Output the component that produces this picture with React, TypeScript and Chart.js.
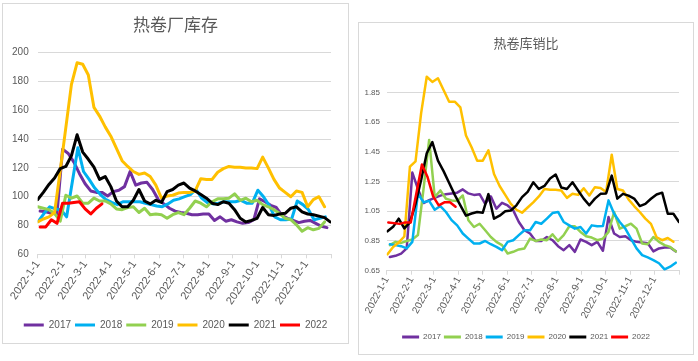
import React, { useEffect, useRef } from "react";
import { Chart, registerables } from "chart.js";

Chart.register(...registerables);

// ---------- shared axis data ----------
const years = ["2017", "2018", "2019", "2020", "2021", "2022"];
const monthLabels = [
  "2022-1-1", "2022-2-1", "2022-3-1", "2022-4-1", "2022-5-1", "2022-6-1",
  "2022-7-1", "2022-8-1", "2022-9-1", "2022-10-1", "2022-11-1", "2022-12-1",
];
const monthDays = [0, 31, 59, 90, 120, 151, 181, 212, 243, 273, 304, 334];
const yearDays = 365;

// ---------- left chart: 热卷厂库存 (weekly) ----------
const inv2017 = [90, 89.5, 88.5, 88, 133, 130, 124, 116, 109, 104, 103, 103, 100.5, 103.5, 104.5, 107, 117.5, 108, 109.5, 110, 105, 98, 95, 92, 90, 89, 88.5, 87.5, 87.5, 88, 88, 83.5, 86, 83, 84, 82.5, 81.5, 82, 84, 98.5, 96.5, 94, 92.5, 87, 85, 83.5, 82, 83, 83.5, 81.5, 79.5, 78.5];
const inv2018 = [83, 88.5, 93, 91.5, 91, 86, 110, 134, 117.5, 112, 106, 101.5, 98, 96, 94.5, 96.5, 96.5, 96.5, 96.5, 95.5, 94.5, 93.5, 93, 95, 97.5, 98.5, 100, 101.5, 105, 99, 96, 95, 95.5, 96.5, 96.5, 96.5, 97.5, 95.5, 95.5, 104.5, 100, 94, 86, 84, 84, 84.5, 97, 94.5, 91, 84, 85, 86];
const inv2019 = [93, 92, 91, 88.5, 83, 101, 99, 100.5, 95.5, 95.5, 99, 97, 97, 95, 91.5, 91, 92.5, 93, 89, 92, 87.5, 88, 87.5, 85, 87.5, 89, 87.5, 92, 97, 95.5, 93, 96.5, 98.5, 98.5, 99, 102, 97.5, 99, 96.5, 97.5, 94.5, 93, 91, 88.5, 85, 84, 80.5, 76, 78.5, 77, 78, 82.5];
const inv2020 = [82.5, 84.5, 86, 89, 118, 148, 178, 193, 192, 184.5, 162, 156, 148.5, 142, 133.5, 125, 121, 117.5, 115.5, 116.5, 114, 108, 99, 100.5, 101, 102.5, 103, 103, 104, 112.5, 112, 112, 117, 119.5, 121, 120.5, 120.5, 120, 120, 119.5, 127.5, 120, 112, 106, 103, 100, 104, 103, 93, 98, 100, 93];
const inv2021 = [98, 103, 108.5, 113, 119.5, 121, 128.5, 143, 131, 126, 120.5, 112, 114, 107, 97, 93, 93, 97.5, 105, 97, 95, 97.5, 96, 103.5, 105, 108, 109.5, 106, 104, 101.5, 99, 95.5, 94.5, 96.5, 95.5, 91, 85, 82.5, 83.5, 85, 92.5, 87.5, 87, 88, 88.5, 92, 93, 89.5, 88, 87.5, 86.5, 85.5, 82.5];
const inv2022 = [79, 79, 84, 81.5, 95.5, 95.5, 96, 96.5, 91.5, 88, 92, 95];
const invStartDays = [3, 1, 0, 0, 0, 3];
const invTicks = [60, 80, 100, 120, 140, 160, 180, 200];

// ---------- right chart: 热卷库销比 (weekly) ----------
const ratio2017 = [0.742, 0.75, 0.765, 0.8, 1.31, 1.2, 1.105, 1.125, 1.14, 1.155, 1.165, 1.17, 1.175, 1.197, 1.17, 1.16, 1.165, 1.1, 1.15, 1.067, 1.107, 1.089, 1.056, 0.978, 0.922, 0.9, 0.85, 0.85, 0.877, 0.855, 0.815, 0.788, 0.822, 0.777, 0.86, 0.844, 0.822, 0.844, 0.784, 1.011, 0.9, 0.877, 0.882, 0.855, 0.844, 0.84, 0.835, 0.78, 0.8, 0.806, 0.806, 0.78];
const ratio2018 = [0.822, 0.844, 0.837, 0.85, 0.86, 0.89, 1.2, 1.53, 1.145, 1.19, 1.134, 1.123, 1.118, 1.156, 0.989, 0.944, 0.966, 0.922, 0.877, 0.844, 0.822, 0.766, 0.777, 0.793, 0.8, 0.866, 0.85, 0.86, 0.855, 0.895, 0.85, 0.889, 0.949, 0.949, 0.911, 0.882, 0.873, 0.855, 0.866, 0.911, 1.045, 0.933, 0.949, 0.966, 0.933, 0.833, 0.828, 0.877, 0.844, 0.822, 0.81, 0.78];
const ratio2019 = [0.828, 0.822, 0.815, 0.8, 0.844, 1.17, 1.11, 1.12, 1.06, 1.085, 1.045, 0.99, 0.955, 0.9, 0.866, 0.833, 0.833, 0.85, 0.828, 0.81, 0.788, 0.844, 0.855, 0.889, 0.922, 0.922, 0.978, 0.966, 1.0, 1.038, 1.045, 0.978, 0.955, 0.933, 0.944, 0.9, 0.955, 0.949, 0.95, 1.123, 1.033, 0.978, 0.933, 0.866, 0.8, 0.755, 0.739, 0.721, 0.7, 0.659, 0.677, 0.704];
const ratio2020 = [0.76, 0.81, 0.84, 0.88, 1.35, 1.385, 1.71, 1.955, 1.92, 1.945, 1.866, 1.787, 1.787, 1.748, 1.56, 1.48, 1.39, 1.39, 1.46, 1.3, 1.22, 1.16, 1.1, 1.06, 1.04, 1.075, 1.11, 1.15, 1.2, 1.195, 1.195, 1.19, 1.14, 1.167, 1.16, 1.205, 1.156, 1.212, 1.207, 1.18, 1.43, 1.2, 1.19, 1.13, 1.085, 1.045, 1.0, 0.965, 0.875, 0.855, 0.87, 0.845];
const ratio2021 = [0.915, 0.945, 1.0, 0.935, 0.975, 1.1, 1.26, 1.44, 1.515, 1.39, 1.32, 1.24, 1.16, 1.09, 1.02, 1.035, 1.045, 1.04, 1.165, 1.0, 1.02, 1.05, 1.055, 1.09, 1.145, 1.18, 1.245, 1.2, 1.22, 1.27, 1.297, 1.21, 1.2, 1.245, 1.19, 1.135, 1.09, 1.135, 1.167, 1.17, 1.29, 1.135, 1.167, 1.155, 1.135, 1.085, 1.1, 1.134, 1.163, 1.175, 1.033, 1.033, 0.978];
const ratio2022 = [0.975, 0.97, 0.965, 0.975, 0.975, 1.17, 1.365, 1.28, 1.15, 1.09, 1.11, 1.11, 1.08];
const ratioStartDays = [4, 4, 4, 1, 1, 2];
const ratioTicks = [0.65, 0.85, 1.05, 1.25, 1.45, 1.65, 1.85];

// ---------- styles ----------
const PURPLE = "#7030A0";
const BLUE = "#00B0F0";
const GREEN = "#92D050";
const ORANGE = "#FFC000";
const BLACK = "#000000";
const RED = "#FF0000";
const TEXT = "#595959";
const GRID = "#d9d9d9";
const FONT = '"Liberation Sans", Arial, sans-serif';
const CJK = '"Noto Sans CJK SC", "Noto Sans", sans-serif';

function toPoints(values: number[], startDay: number) {
  return values.map((v, i) => ({ x: startDay + i * 7, y: v }));
}

type Cfg = {
  box: { left: number; top: number; w: number; h: number };
  title: string;
  titleSize: number;
  titlePad: { top: number; bottom: number };
  series: number[][];
  startDays: number[];
  colors: string[];
  lineWidth: number;
  yMin: number;
  yMax: number;
  yTicks: number[];
  yDecimals: number;
  yFont: number;
  yPad: number;
  yWidth: number;
  rightGap: number;
  xFont: number;
  xRot: number;
  xHeight: number;
  legendFont: number;
  legendBox: number;
  legendPad: number;
  bottomPad: number;
};

const leftCfg: Cfg = {
  box: { left: 2, top: 3, w: 345, h: 339 },
  title: "热卷厂库存",
  titleSize: 17,
  titlePad: { top: 10, bottom: 18.3 },
  series: [inv2017, inv2018, inv2019, inv2020, inv2021, inv2022],
  startDays: invStartDays,
  colors: [PURPLE, BLUE, GREEN, ORANGE, BLACK, RED],
  lineWidth: 3,
  yMin: 60,
  yMax: 200,
  yTicks: invTicks,
  yDecimals: 0,
  yFont: 10,
  yPad: 9,
  yWidth: 34.7,
  rightGap: 17,
  xFont: 11,
  xRot: 56,
  xHeight: 61.7,
  legendFont: 10,
  legendBox: 20,
  legendPad: 4,
  bottomPad: 3,
};

const rightCfg: Cfg = {
  box: { left: 358, top: 22, w: 334, h: 331 },
  title: "热卷库销比",
  titleSize: 13,
  titlePad: { top: 12.2, bottom: 11.8 },
  series: [ratio2017, ratio2018, ratio2019, ratio2020, ratio2021, ratio2022],
  startDays: ratioStartDays,
  colors: [PURPLE, GREEN, BLUE, ORANGE, BLACK, RED],
  lineWidth: 2.5,
  yMin: 0.65,
  yMax: 2.05,
  yTicks: ratioTicks,
  yDecimals: 2,
  yFont: 8,
  yPad: 6.7,
  yWidth: 27.7,
  rightGap: 14,
  xFont: 10,
  xRot: 62,
  xHeight: 59.3,
  legendFont: 8,
  legendBox: 17,
  legendPad: 3,
  bottomPad: 3,
};

function ChartPanel({ cfg }: { cfg: Cfg }) {
  const ref = useRef<HTMLCanvasElement>(null);

  useEffect(() => {
    if (!ref.current) return;
    const datasets = cfg.series.map((vals, i) => ({
      label: years[i],
      data: toPoints(vals, cfg.startDays[i]),
      borderColor: cfg.colors[i],
      backgroundColor: cfg.colors[i],
      borderWidth: cfg.lineWidth,
      pointRadius: 0,
      pointHoverRadius: 0,
      tension: 0,
      borderJoinStyle: "round",
      borderCapStyle: "round",
      order: -i,
    }));

    const chart = new Chart(ref.current, {
      type: "line",
      data: { datasets } as any,
      options: {
        responsive: false,
        animation: false,
        devicePixelRatio: 1,
        layout: { padding: { left: 0, right: 0, top: 0, bottom: cfg.bottomPad } },
        plugins: {
          tooltip: { enabled: false },
          title: {
            display: true,
            text: cfg.title,
            color: TEXT,
            font: { family: CJK, size: cfg.titleSize, weight: "normal" },
            padding: cfg.titlePad,
          },
          legend: {
            display: true,
            position: "bottom",
            align: "center",
            labels: {
              boxWidth: cfg.legendBox,
              boxHeight: 3,
              padding: cfg.legendPad,
              color: TEXT,
              font: { family: FONT, size: cfg.legendFont },
              sort: (a: any, b: any) => a.datasetIndex - b.datasetIndex,
              generateLabels: (c: any) =>
                (Chart.defaults.plugins.legend.labels.generateLabels as any)(c).map((it: any) => ({
                  ...it,
                  lineWidth: 0,
                  fillStyle: it.strokeStyle,
                })),
            },
          },
        },
        scales: {
          x: {
            type: "linear",
            min: 0,
            max: yearDays,
            afterBuildTicks: (axis: any) => {
              axis.ticks = [...monthDays, yearDays].map((v) => ({ value: v }));
            },
            afterFit: (axis: any) => {
              axis.height = cfg.xHeight;
            },
            ticks: {
              autoSkip: false,
              minRotation: cfg.xRot,
              maxRotation: cfg.xRot,
              padding: 0,
              color: TEXT,
              font: { family: FONT, size: cfg.xFont },
              callback: (v: any) => {
                const idx = monthDays.indexOf(Number(v));
                return idx >= 0 ? monthLabels[idx] : "";
              },
            },
            grid: {
              display: true,
              drawOnChartArea: false,
              drawTicks: true,
              tickLength: 4,
              color: GRID,
            },
            border: { display: true, color: GRID },
          },
          y: {
            type: "linear",
            min: cfg.yMin,
            max: cfg.yMax,
            afterBuildTicks: (axis: any) => {
              axis.ticks = cfg.yTicks.map((v) => ({ value: v }));
            },
            afterFit: (axis: any) => {
              axis.width = cfg.yWidth;
            },
            ticks: {
              padding: cfg.yPad,
              color: TEXT,
              font: { family: FONT, size: cfg.yFont },
              callback: (v: any) => Number(v).toFixed(cfg.yDecimals),
            },
            grid: { color: GRID, drawTicks: false, lineWidth: 1 },
            border: { display: false },
          },
          yRight: {
            type: "linear",
            position: "right",
            display: true,
            afterFit: (axis: any) => {
              axis.width = cfg.rightGap;
            },
            ticks: { display: false },
            grid: { display: false, drawTicks: false },
            border: { display: false },
          },
        },
      } as any,
    });
    return () => chart.destroy();
  }, [cfg]);

  return (
    <div
      style={{
        position: "absolute",
        left: cfg.box.left,
        top: cfg.box.top,
        width: cfg.box.w,
        height: cfg.box.h,
        border: "1px solid #d9d9d9",
        background: "#ffffff",
      }}
    >
      <canvas ref={ref} width={cfg.box.w} height={cfg.box.h} style={{ display: "block" }} />
    </div>
  );
}

export default function App() {
  return (
    <div
      style={{
        position: "fixed",
        left: 0,
        top: 0,
        width: 698,
        height: 361,
        background: "#ffffff",
        overflow: "hidden",
      }}
    >
      <ChartPanel cfg={leftCfg} />
      <ChartPanel cfg={rightCfg} />
    </div>
  );
}
